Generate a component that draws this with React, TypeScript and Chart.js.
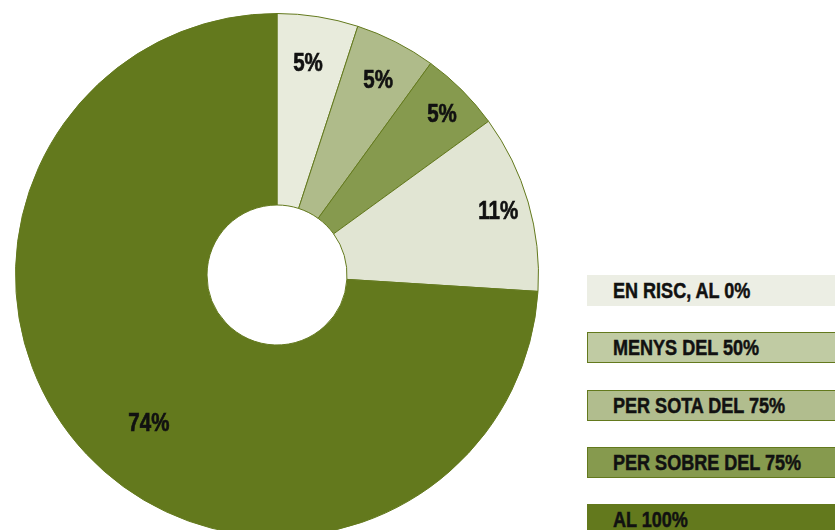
import React, { useEffect, useRef } from "react";
import { Chart, registerables } from "chart.js";

Chart.register(...registerables);

const sliceLabels = ["EN RISC, AL 0%", "MENYS DEL 50%", "PER SOTA DEL 75%", "PER SOBRE DEL 75%", "AL 100%"];
const sliceValues = [5, 5, 5, 11, 74];
const sliceColors = ["#e8ebdc", "#afbb8a", "#869a4e", "#e1e5d3", "#63791d"];

const legendLabels = ["EN RISC, AL 0%", "MENYS DEL 50%", "PER SOTA DEL 75%", "PER SOBRE DEL 75%", "AL 100%"];
const legendColors = ["#eceee4", "#c0cba3", "#b1bd8e", "#869a4e", "#63791d"];
const legendBorders = ["#eceee4", "#63791d", "#63791d", "#63791d", "#63791d"];

const FONT = '"Liberation Sans", Arial, sans-serif';
const NARROW = 0.82;
const labelRadiusFactor = [0.82, 0.84, 0.88, 0.88, 0.75];
const labelAngleShiftDeg = [-0.7, 0.4, 0.8, 0.2, -6];

const pctLabels = {
  id: "pctLabels",
  afterDatasetsDraw(chart: any) {
    const ctx = chart.ctx;
    const meta = chart.getDatasetMeta(0);
    const ds = chart.data.datasets[0];
    meta.data.forEach((arc: any, i: number) => {
      const p = arc.getProps(["x", "y", "startAngle", "endAngle", "outerRadius"], true);
      const mid = (p.startAngle + p.endAngle) / 2 + (labelAngleShiftDeg[i] * Math.PI) / 180;
      const r = p.outerRadius * labelRadiusFactor[i];
      const x = p.x + Math.cos(mid) * r;
      const y = p.y + Math.sin(mid) * r;
      ctx.save();
      ctx.translate(x, y);
      ctx.scale(NARROW, 1);
      ctx.font = `bold 25px ${FONT}`;
      ctx.fillStyle = "#111111";
      ctx.strokeStyle = "#111111";
      ctx.lineWidth = 0.7;
      ctx.textAlign = "center";
      ctx.textBaseline = "middle";
      ctx.fillText(ds.data[i] + "%", 0, 1);
      ctx.strokeText(ds.data[i] + "%", 0, 1);
      ctx.restore();
    });
  },
};

export default function App() {
  const ref = useRef<HTMLCanvasElement | null>(null);
  useEffect(() => {
    if (!ref.current) return;
    const chart = new Chart(ref.current, {
      type: "doughnut",
      data: {
        labels: sliceLabels,
        datasets: [
          {
            data: sliceValues,
            backgroundColor: sliceColors,
            borderColor: "#63791d",
            borderWidth: 1,
          },
        ],
      },
      options: {
        responsive: false,
        animation: false,
        cutout: 70,
        rotation: 0,
        layout: { padding: 0 },
        plugins: {
          legend: { display: false },
          tooltip: { enabled: false },
        },
      },
      plugins: [pctLabels],
    });
    return () => chart.destroy();
  }, []);

  return (
    <div
      style={{
        position: "fixed",
        left: 0,
        top: 0,
        width: 835,
        height: 530,
        overflow: "hidden",
        background: "#ffffff",
      }}
    >
      <canvas
        ref={ref}
        width={524}
        height={524}
        style={{ position: "absolute", left: 15, top: 13, width: 524, height: 524 }}
      />
      {legendLabels.map((lab, i) => (
        <div
          key={lab}
          style={{
            position: "absolute",
            left: 587,
            top: 275 + i * 57.3,
            width: 260,
            height: 31,
            boxSizing: "border-box",
            background: legendColors[i],
            border: `1px solid ${legendBorders[i]}`,
          }}
        >
          <span
            style={{
              position: "absolute",
              left: 25,
              top: 0,
              fontFamily: FONT,
              fontWeight: "bold",
              fontSize: 22,
              lineHeight: "29px",
              color: "#111111",
              whiteSpace: "nowrap",
              WebkitTextStroke: "0.5px #111111",
              transform: `scaleX(${NARROW})`,
              transformOrigin: "0 0",
            }}
          >
            {lab}
          </span>
        </div>
      ))}
    </div>
  );
}
